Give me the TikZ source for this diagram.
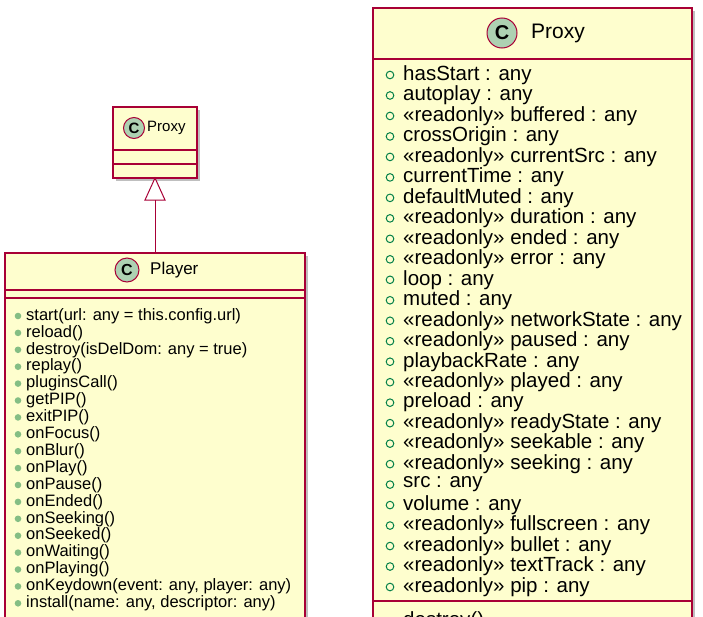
\documentclass[tikz,border=0pt]{standalone}
\usepackage{fontspec}
\setmainfont{Liberation Sans}
\begin{document}
\begin{tikzpicture}[x=1pt,y=-1pt,
  box/.style={draw=umlred,fill=umlfill,line width=1.2pt},
  sep/.style={draw=umlred,line width=1.2pt},
  cbadge/.style={circle,draw=umlred,fill=badge,line width=1pt,inner sep=0pt},
  txt/.style={anchor=west,inner sep=0pt}]
\definecolor{umlred}{HTML}{A80036}
\definecolor{umlfill}{HTML}{FEFECE}
\definecolor{badge}{HTML}{ADD1B2}
\definecolor{dotg}{HTML}{84BE84}
\definecolor{hollowg}{HTML}{038048}
\useasboundingbox (0,0) rectangle (703,616);
\clip (0,0) rectangle (703,616);
% small proxy
\fill[black!25] (116,110) rectangle (200,181);
\draw[box] (113,107) rectangle (197,178);
\draw[sep] (113,150)--(197,150) (113,164)--(197,164);
\node[cbadge,minimum size=21pt,font=\bfseries\fontsize{15}{17}\selectfont] (cs) at (134,128) {C};
\node[txt,font=\fontsize{15}{17}\selectfont] (ps) at (147,128) {Proxy};
% Player
\fill[black!25] (8,256) rectangle (308,620);
\draw[box] (5,253) rectangle (305,640);
\draw[sep] (5,290)--(305,290) (5,298)--(305,298);
\node[cbadge,minimum size=24pt,font=\bfseries\fontsize{16}{18}\selectfont] (cp) at (127,270) {C};
\node[txt,font=\fontsize{17}{19}\selectfont] (pl) at (150,270) {Player};
\coordinate (tt) at (155,178);
\coordinate (tb) at (155,200);
\draw[umlred,line width=1pt,fill=white] (tt)--(145,200)--(165,200)--cycle;
\draw[umlred,line width=1pt] (tb)--(155,253);
\foreach \t [count=\i from 0] in {start(url: any = this.config.url),reload(),destroy(isDelDom: any = true),replay(),pluginsCall(),getPIP(),exitPIP(),onFocus(),onBlur(),onPlay(),onPause(),onEnded(),onSeeking(),onSeeked(),onWaiting(),onPlaying(),{onKeydown(event: any, player: any)},{install(name: any, descriptor: any)}}{
  \fill[dotg] (18,316+16.9*\i) circle (3.3);
  \node[txt,font=\fontsize{16.5}{18}\selectfont] at (26,316+16.9*\i) {\t};
}
% big proxy
\fill[black!25] (376,11) rectangle (695,620);
\draw[box] (373,8) rectangle (692,640);
\draw[sep] (373,59)--(692,59) (373,601)--(692,601);
\node[cbadge,minimum size=30pt,font=\bfseries\fontsize{20}{22}\selectfont] (cb) at (502,33) {C};
\node[txt,font=\fontsize{21}{24}\selectfont] (pb) at (531,33) {Proxy};
\foreach \t [count=\i from 0] in {hasStart : any,autoplay : any,«readonly» buffered : any,crossOrigin : any,«readonly» currentSrc : any,currentTime : any,defaultMuted : any,«readonly» duration : any,«readonly» ended : any,«readonly» error : any,loop : any,muted : any,«readonly» networkState : any,«readonly» paused : any,playbackRate : any,«readonly» played : any,preload : any,«readonly» readyState : any,«readonly» seekable : any,«readonly» seeking : any,src : any,volume : any,«readonly» fullscreen : any,«readonly» bullet : any,«readonly» textTrack : any,«readonly» pip : any}{
  \draw[hollowg,line width=1pt] (390,75+20.48*\i) circle (3.8);
  \node[txt,font=\fontsize{20.5}{22}\selectfont] at (403,75+20.48*\i) {\t};
}
\fill[dotg] (390,621) circle (3.8);
\node[txt,font=\fontsize{20.5}{22}\selectfont] at (403,621) {destroy()};
\end{tikzpicture}
\end{document}
